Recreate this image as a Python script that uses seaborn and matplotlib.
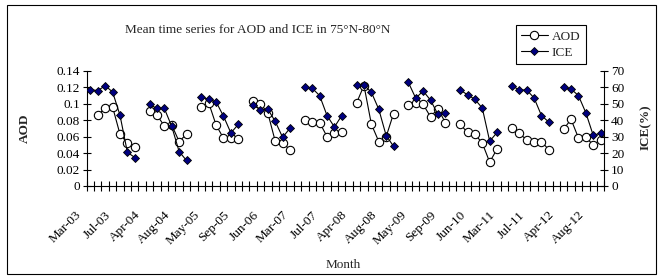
import numpy as np
import pandas as pd
import matplotlib
matplotlib.use("Agg")
import matplotlib.pyplot as plt
import seaborn as sns
from matplotlib.transforms import ScaledTranslation
from matplotlib.patches import Rectangle

# ---------------- data ----------------
months = ["Mar", "Apr", "May", "Jun", "Jul", "Aug", "Sep"]
years = [2003, 2004, 2005, 2006, 2007, 2008, 2009, 2010, 2011, 2012]
nan = np.nan

aod_2003 = [nan, 0.086, 0.095, 0.096, 0.063, 0.052, 0.047]
aod_2004 = [nan, 0.091, 0.086, 0.073, 0.074, 0.054, 0.063]
aod_2005 = [nan, 0.096, 0.101, 0.074, 0.058, 0.058, 0.057]
aod_2006 = [nan, 0.1036, 0.100, 0.0885, 0.0543, 0.0527, 0.0438]
aod_2007 = [nan, 0.080, 0.078, 0.077, 0.060, 0.064, 0.065]
aod_2008 = [nan, 0.101, 0.122, 0.075, 0.054, 0.060, 0.088]
aod_2009 = [nan, 0.098, 0.1005, 0.099, 0.084, 0.094, 0.077]
aod_2010 = [nan, 0.075, 0.065, 0.063, 0.052, 0.029, 0.045]
aod_2011 = [nan, 0.070, 0.064, 0.056, 0.054, 0.054, 0.044]
aod_2012 = [nan, 0.069, 0.081, 0.0585, 0.059, 0.050, 0.056]

ice_2003 = [58.5, 57.9, 60.9, 57.1, 43.0, 20.5, 17.3]
ice_2004 = [nan, 49.5, 47.1, 47.1, 36.2, 20.9, 15.5]
ice_2005 = [nan, 53.9, 52.7, 51.1, 42.4, 32.2, 37.4]
ice_2006 = [nan, 49.2, 46.2, 46.6, 39.2, 29.5, 35.2]
ice_2007 = [nan, 59.9, 59.3, 54.9, 42.8, 35.8, 42.8]
ice_2008 = [nan, 61.4, 61.4, 56.9, 46.6, 30.6, 24.1]
ice_2009 = [nan, 62.9, 53.3, 57.7, 52.1, 43.5, 44.5]
ice_2010 = [nan, 58.3, 55.4, 52.6, 47.3, 27.2, 32.5]
ice_2011 = [nan, 60.9, 58.3, 58.3, 53.5, 42.8, 38.8]
ice_2012 = [nan, 60.0, 58.9, 54.9, 44.5, 30.8, 32.0]

aod_by_year = [aod_2003, aod_2004, aod_2005, aod_2006, aod_2007,
               aod_2008, aod_2009, aod_2010, aod_2011, aod_2012]
ice_by_year = [ice_2003, ice_2004, ice_2005, ice_2006, ice_2007,
               ice_2008, ice_2009, ice_2010, ice_2011, ice_2012]

categories = [f"{m}-{y % 100:02d}" for y in years for m in months]
label_every = 4

aod_ticks = [0, 0.02, 0.04, 0.06, 0.08, 0.1, 0.12, 0.14]
ice_ticks = [0, 10, 20, 30, 40, 50, 60, 70]

title = "Mean time series for AOD and ICE in 75°N-80°N"

# ---------------- table ----------------
rows = []
for yi, y in enumerate(years):
    for mi, m in enumerate(months):
        rows.append(dict(idx=yi * len(months) + mi, year=y,
                         aod=aod_by_year[yi][mi], ice=ice_by_year[yi][mi]))
df = pd.DataFrame(rows)

# ---------------- figure ----------------
sns.set_theme(style="white")
plt.rcParams["font.family"] = ["Liberation Serif", "DejaVu Serif"]
plt.rcParams["axes.linewidth"] = 0.8

W, H = 663, 279
fig = plt.figure(figsize=(W / 100, H / 100), dpi=100)
x0, x1, ytop, ybot = 86.7, 604.3, 70.7, 186.0
ax = fig.add_axes([x0 / W, 1 - ybot / H, (x1 - x0) / W, (ybot - ytop) / H])
ax2 = ax.twinx()

sns.lineplot(data=df.dropna(subset=["aod"]), x="idx", y="aod", units="year",
             estimator=None, ax=ax, color="black", linewidth=0.8,
             marker="o", markersize=6, markerfacecolor="white",
             markeredgecolor="black", markeredgewidth=0.8)
sns.lineplot(data=df.dropna(subset=["ice"]), x="idx", y="ice", units="year",
             estimator=None, ax=ax2, color="black", linewidth=0.8,
             marker="D", markersize=4.2, markerfacecolor="#000080",
             markeredgecolor="black", markeredgewidth=0.6)

n = len(categories)
ax.set_xlim(-0.5, n - 0.5)
ax.set_ylim(0, 0.14)
ax2.set_ylim(0, 70)

for a in (ax, ax2):
    a.set_xlabel("")
    a.set_ylabel("")
    a.grid(False)
    a.spines["top"].set_visible(False)
    for s in a.spines.values():
        s.set_color("black")
        s.set_linewidth(0.8)
ax.spines["right"].set_visible(False)
ax2.spines["left"].set_visible(False)
ax2.spines["bottom"].set_visible(False)

fs = 9.5
ax.set_yticks(aod_ticks)
ax.set_yticklabels([f"{v:g}" for v in aod_ticks], fontsize=fs)
ax2.set_yticks(ice_ticks)
ax2.set_yticklabels([f"{v:g}" for v in ice_ticks], fontsize=fs)
ax.tick_params(axis="y", direction="inout", length=6, width=0.8,
               color="black", pad=2, labelcolor="black")
ax2.tick_params(axis="y", direction="inout", length=6, width=0.8,
                color="black", pad=2, labelcolor="black")

# x: boundary tick marks (minor) and labels every 4 categories (major)
ax.set_xticks(np.arange(-0.5, n, 1.0), minor=True)
lab_pos = list(range(0, n, label_every))
ax.set_xticks(lab_pos)
ax.set_xticklabels([categories[i] for i in lab_pos], rotation=45,
                   ha="right", va="top", fontsize=fs)
ax.tick_params(axis="x", which="minor", direction="inout", length=7,
               width=0.8, color="black", bottom=True)
ax.tick_params(axis="x", which="major", length=0, pad=16.5,
               labelcolor="black")
off = ScaledTranslation(-6.5 / 100, 0, fig.dpi_scale_trans)
for lab in ax.get_xticklabels():
    lab.set_transform(lab.get_transform() + off)

# texts
fig.text(258 / W, 1 - 30 / H, title, ha="center", va="center", fontsize=fs)
fig.text(25 / W, 1 - 128 / H, "AOD", rotation=90, ha="center", va="center",
         fontsize=fs, fontweight="bold")
fig.text(646 / W, 1 - 127 / H, "ICE(%)", rotation=90, ha="center",
         va="center", fontsize=fs, fontweight="bold")
fig.text(343 / W, 1 - 265 / H, "Month", ha="center", va="center",
         fontsize=fs)

# legend
h1 = ax.lines[0]
h2 = ax2.lines[0]
leg = fig.legend([h1, h2], ["AOD", "ICE"], loc="upper left",
                 bbox_to_anchor=(516 / W, 1 - 25 / H), fontsize=fs,
                 frameon=True, fancybox=False, edgecolor="black",
                 framealpha=1, handlelength=2.0, handletextpad=0.3,
                 borderpad=0.4, labelspacing=0.3, borderaxespad=0)
leg.get_frame().set_linewidth(0.8)

# chart area border
fig.patches.append(Rectangle((7 / W, 5 / H), (656 - 7) / W, (274 - 5) / H,
                             transform=fig.transFigure, fill=False,
                             edgecolor="black", linewidth=0.8))

fig.savefig("out.png", dpi=100)
